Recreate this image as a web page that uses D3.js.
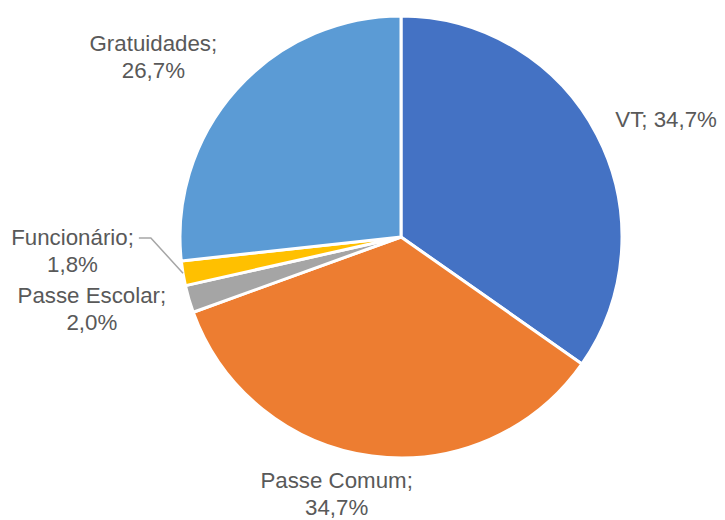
<!DOCTYPE html>
<html>
<head>
<meta charset="utf-8">
<script src="https://cdn.jsdelivr.net/npm/d3@7"></script>
<style>
  html, body { margin: 0; padding: 0; background: #fff; }
  svg text { font-family: "Liberation Sans", Arial, sans-serif; }
</style>
</head>
<body>
<svg id="chart" width="725" height="520"></svg>
<script>
// Distribution of trips by fare type
const categories = ["VT", "Passe Comum", "Passe Escolar", "Funcionário", "Gratuidades"];
const shares = [34.7, 34.7, 2.0, 1.8, 26.7];
const valueLabels = ["34,7%", "34,7%", "2,0%", "1,8%", "26,7%"];
const colors = ["#4472C4", "#ED7D31", "#A5A5A5", "#FFC000", "#5B9BD5"];

// Label placement: offset from the slice centroid at 1.25 × radius
const labelNudge = [[20, 10], [-28, -17], [-44, -6], [-56, -31], [-42, 4]];
const labelLines = [
  ["VT; 34,7%"],
  ["Passe Comum;", "34,7%"],
  ["Passe Escolar;", "2,0%"],
  ["Funcionário;", "1,8%"],
  ["Gratuidades;", "26,7%"]
];
const leaderFor = new Set([3]);

const cx = 401, cy = 237, radius = 221;
const svg = d3.select("#chart");
const g = svg.append("g").attr("transform", `translate(${cx},${cy})`);

const data = categories.map((c, i) => ({ name: c, value: shares[i], index: i }));
const pie = d3.pie().value(d => d.value).sort(null);
const arcs = pie(data);

const arc = d3.arc().innerRadius(0).outerRadius(radius);
const labelArc = d3.arc().innerRadius(radius * 1.25).outerRadius(radius * 1.25);

g.selectAll("path.slice")
  .data(arcs)
  .join("path")
  .attr("class", "slice")
  .attr("d", arc)
  .attr("fill", d => colors[d.data.index])
  .attr("stroke", "#fff")
  .attr("stroke-width", 3)
  .attr("stroke-linejoin", "round");

const lineH = 27;
arcs.forEach(d => {
  const i = d.data.index;
  const [lx, ly] = labelArc.centroid(d);
  const x = lx + labelNudge[i][0];
  const y = ly + labelNudge[i][1];
  const lines = labelLines[i];
  const t = g.append("text")
    .attr("text-anchor", "middle")
    .attr("fill", "#595959")
    .attr("font-size", 22.3);
  lines.forEach((ln, k) => {
    t.append("tspan")
      .attr("x", x)
      .attr("y", y + (k - (lines.length - 1) / 2) * lineH + 7.5)
      .text(ln);
  });

  if (leaderFor.has(i)) {
    const mid = (d.startAngle + d.endAngle) / 2;
    const ex = Math.sin(mid) * radius, ey = -Math.cos(mid) * radius;
    const textW = t.select("tspan").node().getComputedTextLength();
    const sx = x + textW / 2 + 5;
    const sy = y - lineH / 2;
    g.append("polyline")
      .attr("points", [[sx, sy], [sx + 12, sy], [ex, ey]].map(p => p.join(",")).join(" "))
      .attr("fill", "none")
      .attr("stroke", "#A6A6A6")
      .attr("stroke-width", 1.5);
  }
});
</script>
</body>
</html>
